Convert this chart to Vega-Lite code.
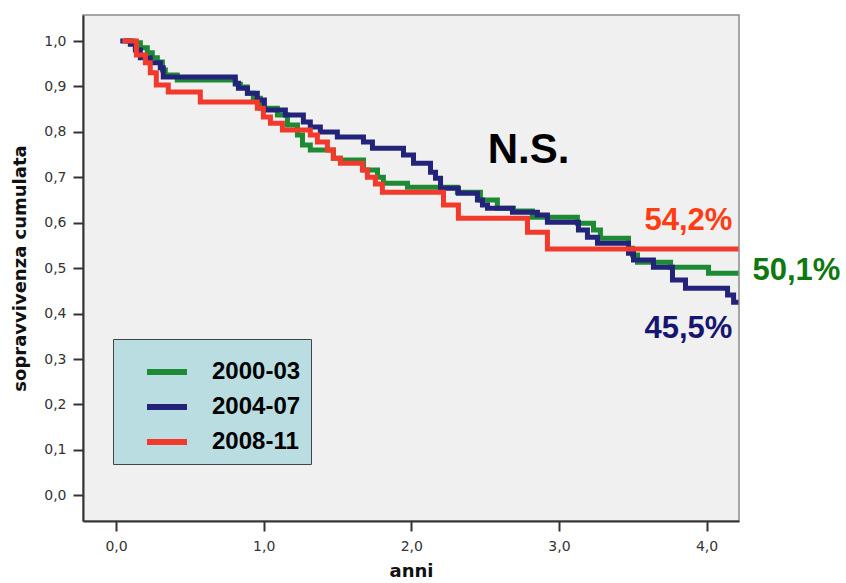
{
  "$schema": "https://vega.github.io/schema/vega-lite/v6.json",
  "width": 656,
  "height": 506,
  "autosize": {"type": "none"},
  "padding": {"left": 83, "top": 15, "right": 107, "bottom": 62},
  "background": "white",
  "config": {
    "view": {"fill": "#f0f0f0", "stroke": "#8a8a8a", "strokeWidth": 1.5},
    "axis": {
      "grid": false,
      "domainColor": "#333333",
      "domainWidth": 2,
      "tickColor": "#333333",
      "tickWidth": 2,
      "tickSize": 10,
      "labelFont": "DejaVu Sans",
      "labelFontSize": 14,
      "labelColor": "#333333",
      "titleFont": "DejaVu Sans",
      "titleFontSize": 18,
      "titleFontWeight": "bold",
      "titleColor": "#111111"
    },
    "legend": {
      "orient": "none",
      "legendX": 30,
      "legendY": 324,
      "fillColor": "#badde1",
      "strokeColor": "#444444",
      "padding": 10,
      "symbolType": "stroke",
      "symbolStrokeWidth": 6,
      "symbolSize": 1600,
      "symbolOffset": 21,
      "labelFont": "Liberation Sans",
      "labelFontWeight": "bold",
      "labelFontSize": 24,
      "labelColor": "#000000",
      "labelOffset": 22,
      "rowPadding": 0
    }
  },
  "datasets": {
    "curves": [
      {"periodo": "2000-03", "t": 0.063, "s": 1.0},
      {"periodo": "2000-03", "t": 0.117, "s": 0.996},
      {"periodo": "2000-03", "t": 0.165, "s": 0.985},
      {"periodo": "2000-03", "t": 0.212, "s": 0.974},
      {"periodo": "2000-03", "t": 0.246, "s": 0.963},
      {"periodo": "2000-03", "t": 0.280, "s": 0.954},
      {"periodo": "2000-03", "t": 0.314, "s": 0.936},
      {"periodo": "2000-03", "t": 0.334, "s": 0.925},
      {"periodo": "2000-03", "t": 0.415, "s": 0.914},
      {"periodo": "2000-03", "t": 0.808, "s": 0.905},
      {"periodo": "2000-03", "t": 0.842, "s": 0.899},
      {"periodo": "2000-03", "t": 0.890, "s": 0.885},
      {"periodo": "2000-03", "t": 0.930, "s": 0.874},
      {"periodo": "2000-03", "t": 0.978, "s": 0.852},
      {"periodo": "2000-03", "t": 1.093, "s": 0.837},
      {"periodo": "2000-03", "t": 1.161, "s": 0.815},
      {"periodo": "2000-03", "t": 1.229, "s": 0.793},
      {"periodo": "2000-03", "t": 1.263, "s": 0.771},
      {"periodo": "2000-03", "t": 1.316, "s": 0.760},
      {"periodo": "2000-03", "t": 1.472, "s": 0.742},
      {"periodo": "2000-03", "t": 1.520, "s": 0.738},
      {"periodo": "2000-03", "t": 1.676, "s": 0.716},
      {"periodo": "2000-03", "t": 1.771, "s": 0.700},
      {"periodo": "2000-03", "t": 1.811, "s": 0.687},
      {"periodo": "2000-03", "t": 1.974, "s": 0.678},
      {"periodo": "2000-03", "t": 2.312, "s": 0.667},
      {"periodo": "2000-03", "t": 2.468, "s": 0.650},
      {"periodo": "2000-03", "t": 2.583, "s": 0.632},
      {"periodo": "2000-03", "t": 2.692, "s": 0.626},
      {"periodo": "2000-03", "t": 2.820, "s": 0.612},
      {"periodo": "2000-03", "t": 3.125, "s": 0.599},
      {"periodo": "2000-03", "t": 3.234, "s": 0.584},
      {"periodo": "2000-03", "t": 3.281, "s": 0.566},
      {"periodo": "2000-03", "t": 3.471, "s": 0.544},
      {"periodo": "2000-03", "t": 3.498, "s": 0.529},
      {"periodo": "2000-03", "t": 3.532, "s": 0.513},
      {"periodo": "2000-03", "t": 3.756, "s": 0.502},
      {"periodo": "2000-03", "t": 4.013, "s": 0.489},
      {"periodo": "2000-03", "t": 4.216, "s": 0.489},
      {"periodo": "2004-07", "t": 0.029, "s": 1.0},
      {"periodo": "2004-07", "t": 0.097, "s": 0.993},
      {"periodo": "2004-07", "t": 0.131, "s": 0.980},
      {"periodo": "2004-07", "t": 0.165, "s": 0.963},
      {"periodo": "2004-07", "t": 0.232, "s": 0.952},
      {"periodo": "2004-07", "t": 0.300, "s": 0.941},
      {"periodo": "2004-07", "t": 0.320, "s": 0.921},
      {"periodo": "2004-07", "t": 0.808, "s": 0.907},
      {"periodo": "2004-07", "t": 0.829, "s": 0.896},
      {"periodo": "2004-07", "t": 0.890, "s": 0.885},
      {"periodo": "2004-07", "t": 0.957, "s": 0.870},
      {"periodo": "2004-07", "t": 1.005, "s": 0.848},
      {"periodo": "2004-07", "t": 1.147, "s": 0.837},
      {"periodo": "2004-07", "t": 1.269, "s": 0.822},
      {"periodo": "2004-07", "t": 1.316, "s": 0.811},
      {"periodo": "2004-07", "t": 1.384, "s": 0.800},
      {"periodo": "2004-07", "t": 1.499, "s": 0.789},
      {"periodo": "2004-07", "t": 1.676, "s": 0.778},
      {"periodo": "2004-07", "t": 1.737, "s": 0.764},
      {"periodo": "2004-07", "t": 1.947, "s": 0.749},
      {"periodo": "2004-07", "t": 2.015, "s": 0.731},
      {"periodo": "2004-07", "t": 2.130, "s": 0.711},
      {"periodo": "2004-07", "t": 2.164, "s": 0.698},
      {"periodo": "2004-07", "t": 2.198, "s": 0.676},
      {"periodo": "2004-07", "t": 2.319, "s": 0.665},
      {"periodo": "2004-07", "t": 2.448, "s": 0.650},
      {"periodo": "2004-07", "t": 2.482, "s": 0.639},
      {"periodo": "2004-07", "t": 2.516, "s": 0.632},
      {"periodo": "2004-07", "t": 2.685, "s": 0.623},
      {"periodo": "2004-07", "t": 2.854, "s": 0.617},
      {"periodo": "2004-07", "t": 2.922, "s": 0.601},
      {"periodo": "2004-07", "t": 3.132, "s": 0.584},
      {"periodo": "2004-07", "t": 3.193, "s": 0.568},
      {"periodo": "2004-07", "t": 3.261, "s": 0.555},
      {"periodo": "2004-07", "t": 3.471, "s": 0.533},
      {"periodo": "2004-07", "t": 3.505, "s": 0.518},
      {"periodo": "2004-07", "t": 3.640, "s": 0.502},
      {"periodo": "2004-07", "t": 3.769, "s": 0.474},
      {"periodo": "2004-07", "t": 3.857, "s": 0.456},
      {"periodo": "2004-07", "t": 4.142, "s": 0.441},
      {"periodo": "2004-07", "t": 4.183, "s": 0.425},
      {"periodo": "2004-07", "t": 4.216, "s": 0.425},
      {"periodo": "2008-11", "t": 0.043, "s": 1.0},
      {"periodo": "2008-11", "t": 0.138, "s": 0.969},
      {"periodo": "2008-11", "t": 0.199, "s": 0.952},
      {"periodo": "2008-11", "t": 0.232, "s": 0.930},
      {"periodo": "2008-11", "t": 0.273, "s": 0.903},
      {"periodo": "2008-11", "t": 0.354, "s": 0.888},
      {"periodo": "2008-11", "t": 0.571, "s": 0.866},
      {"periodo": "2008-11", "t": 0.957, "s": 0.852},
      {"periodo": "2008-11", "t": 0.998, "s": 0.833},
      {"periodo": "2008-11", "t": 1.046, "s": 0.819},
      {"periodo": "2008-11", "t": 1.127, "s": 0.804},
      {"periodo": "2008-11", "t": 1.316, "s": 0.793},
      {"periodo": "2008-11", "t": 1.364, "s": 0.778},
      {"periodo": "2008-11", "t": 1.432, "s": 0.760},
      {"periodo": "2008-11", "t": 1.472, "s": 0.742},
      {"periodo": "2008-11", "t": 1.520, "s": 0.731},
      {"periodo": "2008-11", "t": 1.669, "s": 0.716},
      {"periodo": "2008-11", "t": 1.703, "s": 0.700},
      {"periodo": "2008-11", "t": 1.757, "s": 0.685},
      {"periodo": "2008-11", "t": 1.804, "s": 0.667},
      {"periodo": "2008-11", "t": 2.218, "s": 0.639},
      {"periodo": "2008-11", "t": 2.319, "s": 0.610},
      {"periodo": "2008-11", "t": 2.787, "s": 0.579},
      {"periodo": "2008-11", "t": 2.922, "s": 0.542},
      {"periodo": "2008-11", "t": 4.216, "s": 0.542}
    ],
    "labels": [
      {"label": "N.S.", "t": 2.794, "s": 0.731},
      {"label": "54,2%", "t": 4.175, "s": 0.584},
      {"label": "50,1%", "t": 4.311, "s": 0.474},
      {"label": "45,5%", "t": 4.175, "s": 0.346}
    ]
  },
  "layer": [
    {
      "data": {"name": "curves"},
      "mark": {"type": "line", "interpolate": "step-after", "strokeWidth": 5, "clip": true},
      "encoding": {
        "x": {
          "field": "t", "type": "quantitative",
          "scale": {"domain": [-0.2236, 4.2195], "nice": false, "zero": false},
          "axis": {"values": [0, 1, 2, 3, 4], "title": "anni", "labelExpr": "replace(format(datum.value, '.1f'), '.', ',')", "labelPadding": 8, "titlePadding": 9}
        },
        "y": {
          "field": "s", "type": "quantitative",
          "scale": {"domain": [-0.0566, 1.0573], "nice": false, "zero": false},
          "axis": {"values": [0, 0.1, 0.2, 0.3, 0.4, 0.5, 0.6, 0.7, 0.8, 0.9, 1.0], "title": "sopravvivenza cumulata", "labelExpr": "replace(format(datum.value, '.1f'), '.', ',')", "labelPadding": 7, "titlePadding": 14}
        },
        "color": {
          "field": "periodo", "type": "nominal",
          "scale": {"domain": ["2000-03", "2004-07", "2008-11"], "range": ["#1d8a34", "#23237a", "#f23a2c"]},
          "legend": {"title": null}
        }
      }
    },
    {
      "data": {"name": "labels"},
      "transform": [{"filter": "datum.label === 'N.S.'"}],
      "mark": {"type": "text", "font": "Liberation Sans", "fontWeight": "bold", "fontSize": 42, "align": "center", "baseline": "alphabetic", "color": "#000000"},
      "encoding": {"x": {"field": "t", "type": "quantitative"}, "y": {"field": "s", "type": "quantitative"}, "text": {"field": "label"}}
    },
    {
      "data": {"name": "labels"},
      "transform": [{"filter": "datum.label === '54,2%'"}],
      "mark": {"type": "text", "font": "Liberation Sans", "fontWeight": "bold", "fontSize": 31, "align": "right", "baseline": "alphabetic", "color": "#ff3c12"},
      "encoding": {"x": {"field": "t", "type": "quantitative"}, "y": {"field": "s", "type": "quantitative"}, "text": {"field": "label"}}
    },
    {
      "data": {"name": "labels"},
      "transform": [{"filter": "datum.label === '50,1%'"}],
      "mark": {"type": "text", "font": "Liberation Sans", "fontWeight": "bold", "fontSize": 31, "align": "left", "baseline": "alphabetic", "color": "#0f780f"},
      "encoding": {"x": {"field": "t", "type": "quantitative"}, "y": {"field": "s", "type": "quantitative"}, "text": {"field": "label"}}
    },
    {
      "data": {"name": "labels"},
      "transform": [{"filter": "datum.label === '45,5%'"}],
      "mark": {"type": "text", "font": "Liberation Sans", "fontWeight": "bold", "fontSize": 31, "align": "right", "baseline": "alphabetic", "color": "#161670"},
      "encoding": {"x": {"field": "t", "type": "quantitative"}, "y": {"field": "s", "type": "quantitative"}, "text": {"field": "label"}}
    }
  ]
}
